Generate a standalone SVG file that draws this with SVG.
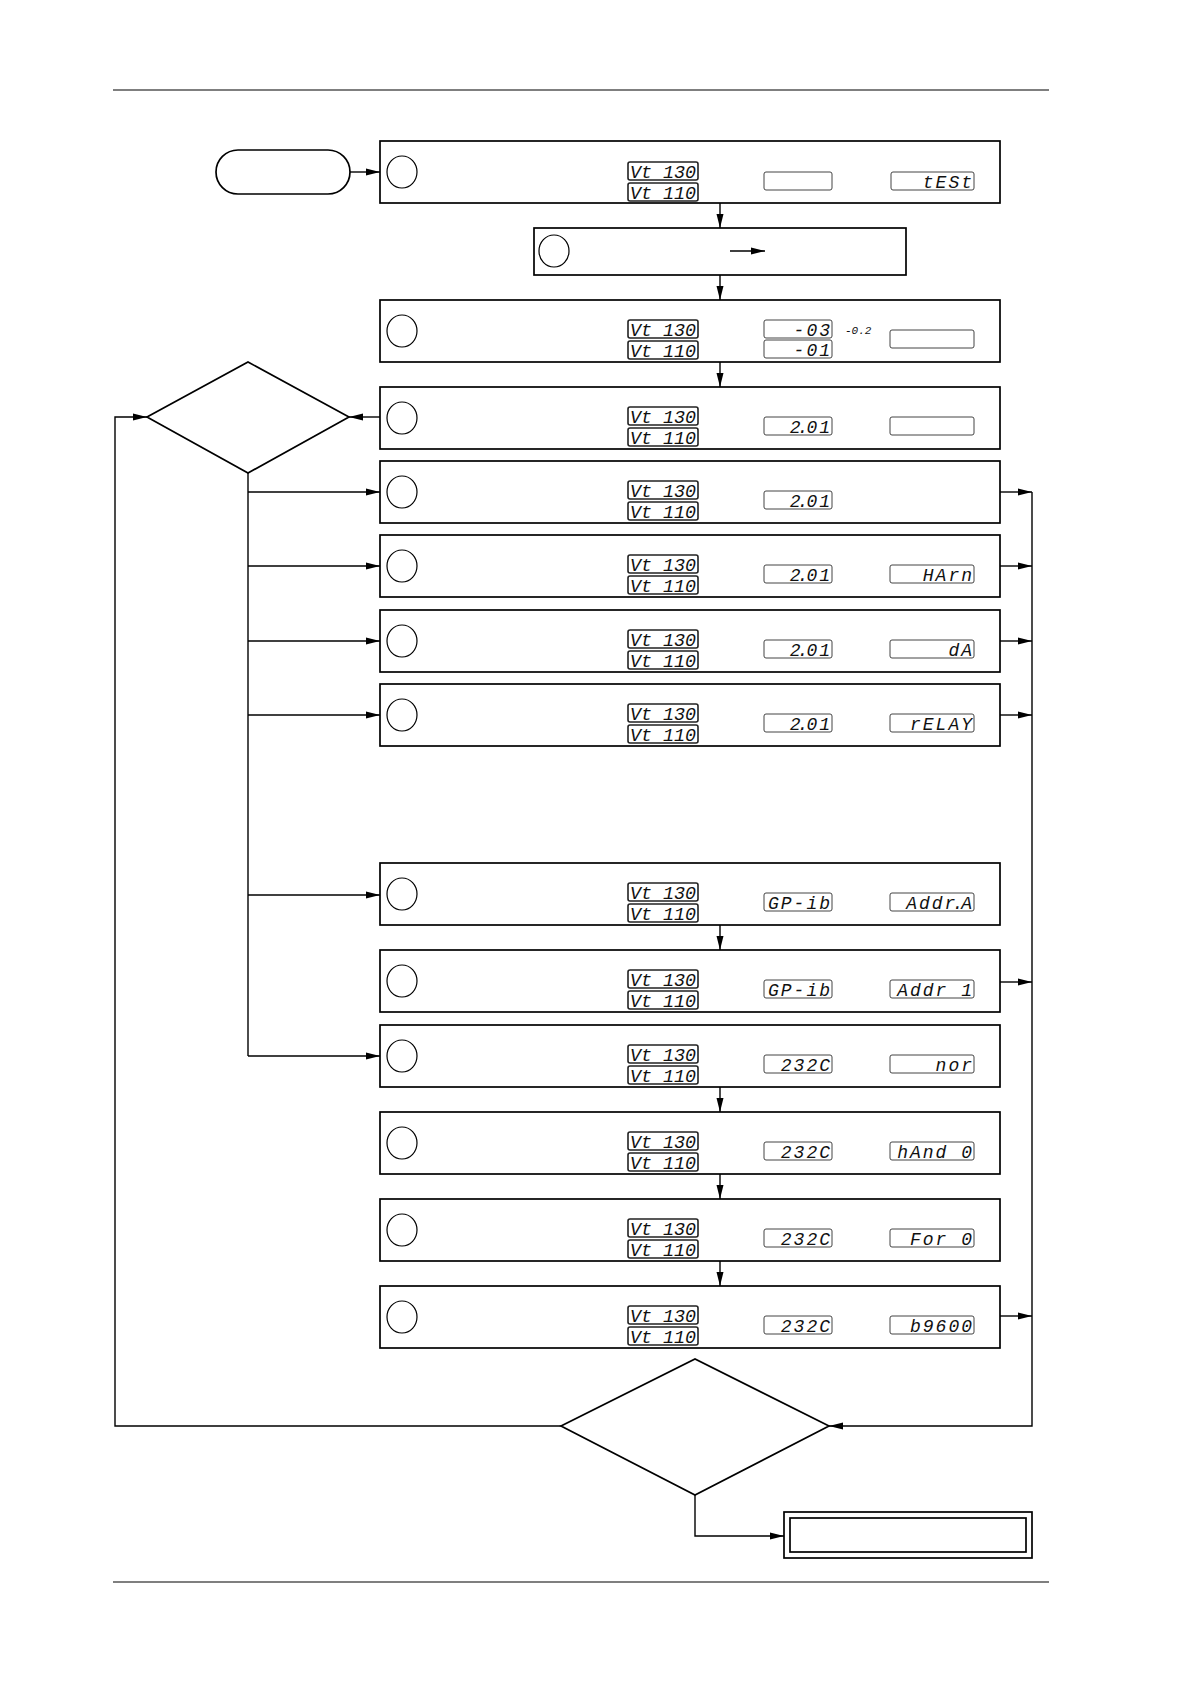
<svg xmlns="http://www.w3.org/2000/svg" width="1190" height="1684" viewBox="0 0 1190 1684">
<defs>
<style>
.rule{stroke:#000;stroke-width:1.2;fill:none}
.box{fill:#fff;stroke:#000;stroke-width:1.7}
.num{fill:none;stroke:#000;stroke-width:1.2}
.lcd{fill:#fff;stroke:#444;stroke-width:1}
.lcdv{fill:#fff;stroke:#222;stroke-width:1.6}
.seg{font-family:"Liberation Mono","DejaVu Sans Mono",monospace;font-style:italic;font-size:18px;letter-spacing:2px;fill:#111;text-anchor:end}
.segv{font-family:"Liberation Mono","DejaVu Sans Mono",monospace;font-style:italic;font-size:18px;fill:#111}
.small{font-family:"Liberation Mono","DejaVu Sans Mono",monospace;font-style:italic;font-size:11px;fill:#111}
.conn{fill:none;stroke:#000;stroke-width:1.4}
</style>
<marker id="ah" markerUnits="userSpaceOnUse" markerWidth="15" markerHeight="9" refX="14" refY="4.5" orient="auto">
<path d="M0,1 L14,4.5 L0,8 z" fill="#000"/>
</marker>
</defs>
<rect width="1190" height="1684" fill="#fff"/>
<line class="rule" x1="113" y1="90" x2="1049" y2="90"/>
<line class="rule" x1="113" y1="1582" x2="1049" y2="1582"/>

<g id="start"><rect class="box" x="216" y="150" width="134" height="44" rx="22"/></g>

<g id="n1">
<rect class="box" x="380" y="141" width="620" height="62"/>
<ellipse class="num" cx="402" cy="172" rx="15" ry="16"/>
<rect class="lcdv" x="628" y="162" width="70" height="18" rx="2"/><text class="segv" x="630" y="177.5" textLength="66" lengthAdjust="spacingAndGlyphs">Vt 130</text>
<rect class="lcdv" x="628" y="183" width="70" height="18" rx="2"/><text class="segv" x="630" y="198.5" textLength="66" lengthAdjust="spacingAndGlyphs">Vt 110</text>
<rect class="lcd" x="764" y="172" width="68" height="18" rx="2"/>
<rect class="lcd" x="891" y="172" width="83" height="18" rx="2"/><text class="seg" x="974" y="187.5">tESt</text>
</g>

<g id="n2">
<rect class="box" x="534" y="228" width="372" height="47"/>
<ellipse class="num" cx="554" cy="251" rx="15" ry="16"/>
<line class="conn" x1="730" y1="251" x2="765" y2="251" marker-end="url(#ah)"/>
</g>

<g id="n3">
<rect class="box" x="380" y="300" width="620" height="62"/>
<ellipse class="num" cx="402" cy="331" rx="15" ry="16"/>
<rect class="lcdv" x="628" y="320" width="70" height="18" rx="2"/><text class="segv" x="630" y="335.5" textLength="66" lengthAdjust="spacingAndGlyphs">Vt 130</text>
<rect class="lcdv" x="628" y="341" width="70" height="18" rx="2"/><text class="segv" x="630" y="356.5" textLength="66" lengthAdjust="spacingAndGlyphs">Vt 110</text>
<rect class="lcd" x="764" y="320" width="68" height="18" rx="2"/><text class="seg" x="832" y="335.5">-03</text>
<rect class="lcd" x="764" y="340" width="68" height="18" rx="2"/><text class="seg" x="832" y="355.5">-01</text>
<text class="small" x="845" y="334">-0.2</text>
<rect class="lcd" x="890" y="330" width="84" height="18" rx="2"/>
</g>

<g id="n4">
<rect class="box" x="380" y="387" width="620" height="62"/>
<ellipse class="num" cx="402" cy="418" rx="15" ry="16"/>
<rect class="lcdv" x="628" y="407" width="70" height="18" rx="2"/><text class="segv" x="630" y="422.5" textLength="66" lengthAdjust="spacingAndGlyphs">Vt 130</text>
<rect class="lcdv" x="628" y="428" width="70" height="18" rx="2"/><text class="segv" x="630" y="443.5" textLength="66" lengthAdjust="spacingAndGlyphs">Vt 110</text>
<rect class="lcd" x="764" y="417" width="68" height="18" rx="2"/><text class="seg" x="832" y="432.5" dx="0 -5 -4 0">2.01</text>
<rect class="lcd" x="890" y="417" width="84" height="18" rx="2"/>
</g>

<g id="d1"><polygon class="box" points="147,417 248,362 349,417 248,473"/></g>

<g id="n5">
<rect class="box" x="380" y="461" width="620" height="62"/>
<ellipse class="num" cx="402" cy="492" rx="15" ry="16"/>
<rect class="lcdv" x="628" y="481" width="70" height="18" rx="2"/><text class="segv" x="630" y="496.5" textLength="66" lengthAdjust="spacingAndGlyphs">Vt 130</text>
<rect class="lcdv" x="628" y="502" width="70" height="18" rx="2"/><text class="segv" x="630" y="517.5" textLength="66" lengthAdjust="spacingAndGlyphs">Vt 110</text>
<rect class="lcd" x="764" y="491" width="68" height="18" rx="2"/><text class="seg" x="832" y="506.5" dx="0 -5 -4 0">2.01</text>
</g>

<g id="n6">
<rect class="box" x="380" y="535" width="620" height="62"/>
<ellipse class="num" cx="402" cy="566" rx="15" ry="16"/>
<rect class="lcdv" x="628" y="555" width="70" height="18" rx="2"/><text class="segv" x="630" y="570.5" textLength="66" lengthAdjust="spacingAndGlyphs">Vt 130</text>
<rect class="lcdv" x="628" y="576" width="70" height="18" rx="2"/><text class="segv" x="630" y="591.5" textLength="66" lengthAdjust="spacingAndGlyphs">Vt 110</text>
<rect class="lcd" x="764" y="565" width="68" height="18" rx="2"/><text class="seg" x="832" y="580.5" dx="0 -5 -4 0">2.01</text>
<rect class="lcd" x="890" y="565" width="84" height="18" rx="2"/><text class="seg" x="974" y="580.5">HArn</text>
</g>

<g id="n7">
<rect class="box" x="380" y="610" width="620" height="62"/>
<ellipse class="num" cx="402" cy="641" rx="15" ry="16"/>
<rect class="lcdv" x="628" y="630" width="70" height="18" rx="2"/><text class="segv" x="630" y="645.5" textLength="66" lengthAdjust="spacingAndGlyphs">Vt 130</text>
<rect class="lcdv" x="628" y="651" width="70" height="18" rx="2"/><text class="segv" x="630" y="666.5" textLength="66" lengthAdjust="spacingAndGlyphs">Vt 110</text>
<rect class="lcd" x="764" y="640" width="68" height="18" rx="2"/><text class="seg" x="832" y="655.5" dx="0 -5 -4 0">2.01</text>
<rect class="lcd" x="890" y="640" width="84" height="18" rx="2"/><text class="seg" x="974" y="655.5">dA</text>
</g>

<g id="n8">
<rect class="box" x="380" y="684" width="620" height="62"/>
<ellipse class="num" cx="402" cy="715" rx="15" ry="16"/>
<rect class="lcdv" x="628" y="704" width="70" height="18" rx="2"/><text class="segv" x="630" y="719.5" textLength="66" lengthAdjust="spacingAndGlyphs">Vt 130</text>
<rect class="lcdv" x="628" y="725" width="70" height="18" rx="2"/><text class="segv" x="630" y="740.5" textLength="66" lengthAdjust="spacingAndGlyphs">Vt 110</text>
<rect class="lcd" x="764" y="714" width="68" height="18" rx="2"/><text class="seg" x="832" y="729.5" dx="0 -5 -4 0">2.01</text>
<rect class="lcd" x="890" y="714" width="84" height="18" rx="2"/><text class="seg" x="974" y="729.5">rELAY</text>
</g>

<g id="n9">
<rect class="box" x="380" y="863" width="620" height="62"/>
<ellipse class="num" cx="402" cy="894" rx="15" ry="16"/>
<rect class="lcdv" x="628" y="883" width="70" height="18" rx="2"/><text class="segv" x="630" y="898.5" textLength="66" lengthAdjust="spacingAndGlyphs">Vt 130</text>
<rect class="lcdv" x="628" y="904" width="70" height="18" rx="2"/><text class="segv" x="630" y="919.5" textLength="66" lengthAdjust="spacingAndGlyphs">Vt 110</text>
<rect class="lcd" x="764" y="893" width="68" height="18" rx="2"/><text class="seg" x="832" y="908.5">GP-ib</text>
<rect class="lcd" x="890" y="893" width="84" height="18" rx="2"/><text class="seg" x="974" y="908.5" dx="0 0 0 0 -5 -4">Addr.A</text>
</g>

<g id="n10">
<rect class="box" x="380" y="950" width="620" height="62"/>
<ellipse class="num" cx="402" cy="981" rx="15" ry="16"/>
<rect class="lcdv" x="628" y="970" width="70" height="18" rx="2"/><text class="segv" x="630" y="985.5" textLength="66" lengthAdjust="spacingAndGlyphs">Vt 130</text>
<rect class="lcdv" x="628" y="991" width="70" height="18" rx="2"/><text class="segv" x="630" y="1006.5" textLength="66" lengthAdjust="spacingAndGlyphs">Vt 110</text>
<rect class="lcd" x="764" y="980" width="68" height="18" rx="2"/><text class="seg" x="832" y="995.5">GP-ib</text>
<rect class="lcd" x="890" y="980" width="84" height="18" rx="2"/><text class="seg" x="974" y="995.5">Addr 1</text>
</g>

<g id="n11">
<rect class="box" x="380" y="1025" width="620" height="62"/>
<ellipse class="num" cx="402" cy="1056" rx="15" ry="16"/>
<rect class="lcdv" x="628" y="1045" width="70" height="18" rx="2"/><text class="segv" x="630" y="1060.5" textLength="66" lengthAdjust="spacingAndGlyphs">Vt 130</text>
<rect class="lcdv" x="628" y="1066" width="70" height="18" rx="2"/><text class="segv" x="630" y="1081.5" textLength="66" lengthAdjust="spacingAndGlyphs">Vt 110</text>
<rect class="lcd" x="764" y="1055" width="68" height="18" rx="2"/><text class="seg" x="832" y="1070.5">232C</text>
<rect class="lcd" x="890" y="1055" width="84" height="18" rx="2"/><text class="seg" x="974" y="1070.5">nor</text>
</g>

<g id="n12">
<rect class="box" x="380" y="1112" width="620" height="62"/>
<ellipse class="num" cx="402" cy="1143" rx="15" ry="16"/>
<rect class="lcdv" x="628" y="1132" width="70" height="18" rx="2"/><text class="segv" x="630" y="1147.5" textLength="66" lengthAdjust="spacingAndGlyphs">Vt 130</text>
<rect class="lcdv" x="628" y="1153" width="70" height="18" rx="2"/><text class="segv" x="630" y="1168.5" textLength="66" lengthAdjust="spacingAndGlyphs">Vt 110</text>
<rect class="lcd" x="764" y="1142" width="68" height="18" rx="2"/><text class="seg" x="832" y="1157.5">232C</text>
<rect class="lcd" x="890" y="1142" width="84" height="18" rx="2"/><text class="seg" x="974" y="1157.5">hAnd 0</text>
</g>

<g id="n13">
<rect class="box" x="380" y="1199" width="620" height="62"/>
<ellipse class="num" cx="402" cy="1230" rx="15" ry="16"/>
<rect class="lcdv" x="628" y="1219" width="70" height="18" rx="2"/><text class="segv" x="630" y="1234.5" textLength="66" lengthAdjust="spacingAndGlyphs">Vt 130</text>
<rect class="lcdv" x="628" y="1240" width="70" height="18" rx="2"/><text class="segv" x="630" y="1255.5" textLength="66" lengthAdjust="spacingAndGlyphs">Vt 110</text>
<rect class="lcd" x="764" y="1229" width="68" height="18" rx="2"/><text class="seg" x="832" y="1244.5">232C</text>
<rect class="lcd" x="890" y="1229" width="84" height="18" rx="2"/><text class="seg" x="974" y="1244.5">For 0</text>
</g>

<g id="n14">
<rect class="box" x="380" y="1286" width="620" height="62"/>
<ellipse class="num" cx="402" cy="1317" rx="15" ry="16"/>
<rect class="lcdv" x="628" y="1306" width="70" height="18" rx="2"/><text class="segv" x="630" y="1321.5" textLength="66" lengthAdjust="spacingAndGlyphs">Vt 130</text>
<rect class="lcdv" x="628" y="1327" width="70" height="18" rx="2"/><text class="segv" x="630" y="1342.5" textLength="66" lengthAdjust="spacingAndGlyphs">Vt 110</text>
<rect class="lcd" x="764" y="1316" width="68" height="18" rx="2"/><text class="seg" x="832" y="1331.5">232C</text>
<rect class="lcd" x="890" y="1316" width="84" height="18" rx="2"/><text class="seg" x="974" y="1331.5">b9600</text>
</g>

<g id="d2"><polygon class="box" points="561,1426 695,1359 829,1426 695,1495"/></g>

<g id="end">
<rect class="box" x="784" y="1512" width="248" height="46"/>
<rect class="box" x="790" y="1518" width="236" height="34"/>
</g>

<g id="connectors">
<line class="conn" x1="350" y1="172" x2="380" y2="172" marker-end="url(#ah)"/>
<line class="conn" x1="720" y1="203" x2="720" y2="228" marker-end="url(#ah)"/>
<line class="conn" x1="720" y1="275" x2="720" y2="300" marker-end="url(#ah)"/>
<line class="conn" x1="720" y1="362" x2="720" y2="387" marker-end="url(#ah)"/>
<line class="conn" x1="380" y1="417" x2="349" y2="417" marker-end="url(#ah)"/>
<line class="conn" x1="248" y1="473" x2="248" y2="1056"/>
<line class="conn" x1="248" y1="492" x2="380" y2="492" marker-end="url(#ah)"/>
<line class="conn" x1="248" y1="566" x2="380" y2="566" marker-end="url(#ah)"/>
<line class="conn" x1="248" y1="641" x2="380" y2="641" marker-end="url(#ah)"/>
<line class="conn" x1="248" y1="715" x2="380" y2="715" marker-end="url(#ah)"/>
<line class="conn" x1="248" y1="895" x2="380" y2="895" marker-end="url(#ah)"/>
<line class="conn" x1="248" y1="1056" x2="380" y2="1056" marker-end="url(#ah)"/>
<line class="conn" x1="720" y1="925" x2="720" y2="950" marker-end="url(#ah)"/>
<line class="conn" x1="720" y1="1087" x2="720" y2="1112" marker-end="url(#ah)"/>
<line class="conn" x1="720" y1="1174" x2="720" y2="1199" marker-end="url(#ah)"/>
<line class="conn" x1="720" y1="1261" x2="720" y2="1286" marker-end="url(#ah)"/>
<line class="conn" x1="1000" y1="492" x2="1032" y2="492" marker-end="url(#ah)"/>
<line class="conn" x1="1000" y1="566" x2="1032" y2="566" marker-end="url(#ah)"/>
<line class="conn" x1="1000" y1="641" x2="1032" y2="641" marker-end="url(#ah)"/>
<line class="conn" x1="1000" y1="715" x2="1032" y2="715" marker-end="url(#ah)"/>
<line class="conn" x1="1000" y1="982" x2="1032" y2="982" marker-end="url(#ah)"/>
<line class="conn" x1="1000" y1="1316" x2="1032" y2="1316" marker-end="url(#ah)"/>
<path class="conn" d="M1032,492 L1032,1426 L829,1426" marker-end="url(#ah)"/>
<path class="conn" d="M561,1426 L115,1426 L115,417 L147,417" marker-end="url(#ah)"/>
<path class="conn" d="M695,1495 L695,1536 L784,1536" marker-end="url(#ah)"/>
</g>
</svg>
